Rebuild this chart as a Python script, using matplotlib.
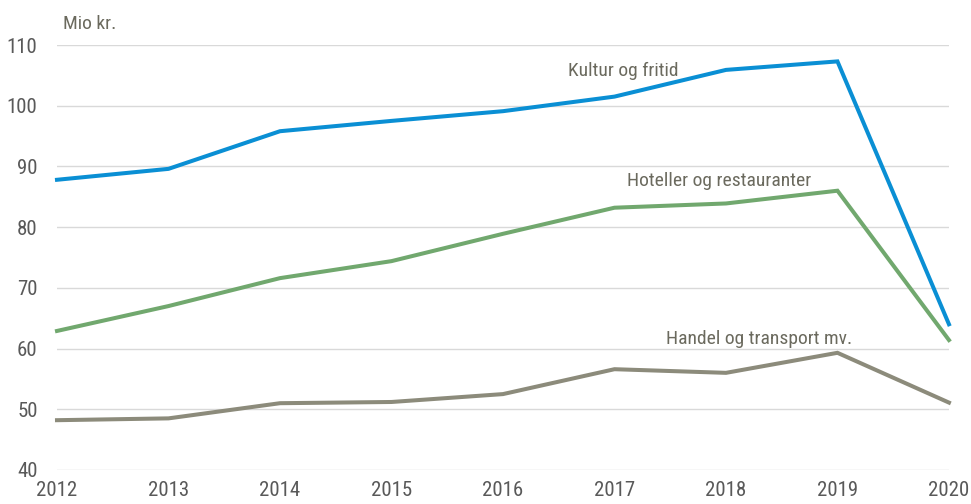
import matplotlib
matplotlib.use("Agg")
import matplotlib.pyplot as plt
from matplotlib import font_manager

years = [2012, 2013, 2014, 2015, 2016, 2017, 2018, 2019, 2020]
kultur = [87.8, 89.6, 95.8, 97.5, 99.1, 101.5, 105.9, 107.3, 64.0]
hotel = [62.9, 67.0, 71.6, 74.4, 78.9, 83.2, 83.9, 86.0, 61.4]
handel = [48.2, 48.5, 51.0, 51.2, 52.5, 56.6, 56.0, 59.3, 51.1]
yticks = [40, 50, 60, 70, 80, 90, 100, 110]

names = {f.name for f in font_manager.fontManager.ttflist}
fam = "Roboto Condensed" if "Roboto Condensed" in names else "Liberation Sans"
plt.rcParams['font.family'] = [fam, 'DejaVu Sans']

fig = plt.figure(figsize=(9.71, 5.04), dpi=100)
ax = fig.add_axes([0.0587, 0.0675, 0.9186, 0.8432])

ax.plot(years, kultur, color='#0a8fd4', lw=2.9, clip_on=False, solid_joinstyle='miter', zorder=3)
ax.plot(years, hotel, color='#71a86e', lw=2.9, clip_on=False, solid_joinstyle='miter', zorder=3)
ax.plot(years, handel, color='#8c8b7b', lw=2.9, clip_on=False, solid_joinstyle='miter', zorder=3)

ax.set_xlim(2012, 2020)
ax.set_ylim(40, 110)
ax.set_yticks(yticks)
ax.set_xticks(years)
ax.yaxis.grid(True, color='#d9d9d9', lw=1)
ax.set_axisbelow(True)
for s in ax.spines.values():
    s.set_visible(False)
ax.tick_params(axis='both', length=0, labelsize=15, labelcolor='#595959')
ax.tick_params(axis='y', pad=14)
ax.tick_params(axis='x', pad=8)

tc = '#6b6a5e'
ax.text(0.0067, 1.049, "Mio kr.", transform=ax.transAxes, fontsize=14, color=tc, ha='left', va='center')
ax.text(2017.08, 105.8, "Kultur og fritid", fontsize=14, color=tc, ha='center', va='center')
ax.text(2017.94, 87.6, "Hoteller og restauranter", fontsize=14, color=tc, ha='center', va='center')
ax.text(2018.30, 61.6, "Handel og transport mv.", fontsize=14, color=tc, ha='center', va='center')

fig.savefig("out.png", dpi=100)
